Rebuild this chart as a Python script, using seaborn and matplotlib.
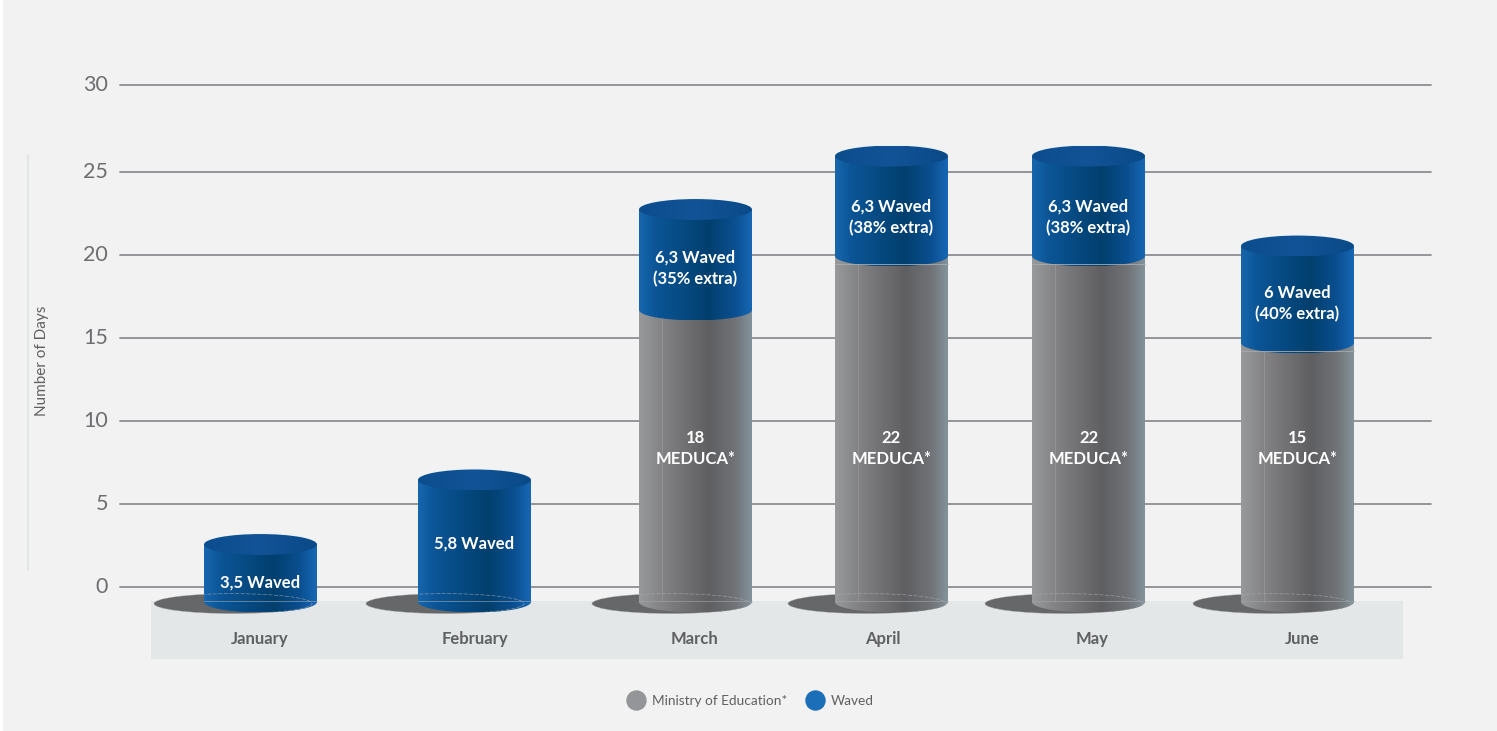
import numpy as np
import pandas as pd
import matplotlib
matplotlib.use('Agg')
import matplotlib.pyplot as plt
import seaborn as sns
from matplotlib.colors import LinearSegmentedColormap
from matplotlib.lines import Line2D
from matplotlib.patches import Ellipse, Polygon, Rectangle
from matplotlib.transforms import ScaledTranslation

# values: where each coloured section ends
months = ['January', 'February', 'March', 'April', 'May', 'June']
meduca_top = [None, None, 16.69, 19.94, 19.94, 14.7]
waved_top = [2.56, 6.45, 22.74, 25.96, 25.96, 20.54]
waved_labels = ['3,5 Waved', '5,8 Waved', '6,3 Waved\n(35% extra)', '6,3 Waved\n(38% extra)',
                '6,3 Waved\n(38% extra)', '6 Waved\n(40% extra)']
waved_label_y = [0.3, 2.59, 19.19, 22.26, 22.26, 17.08]
meduca_labels = [None, None, '18\nMEDUCA*', '22\nMEDUCA*', '22\nMEDUCA*', '15\nMEDUCA*']
y_labels = ['0', '5', '10', '15', '20', '25', '30']
# the top gridline sits a little higher than the even spacing in the original
y_ticks = [0, 5, 10, 15, 20, 25, 30.24]

# layout, the bars are not evenly spaced in the original
centers = [260.5, 474.5, 695.5, 891.5, 1088.5, 1297.5]
month_x = [260, 475, 695, 883, 1092, 1302]
shadow_x = [233, 445, 671, 867, 1064, 1272]
floor = -0.9
cap_h = 0.63
band_top = -0.84
y_min = -4.337

BG = '#f2f2f2'
TEXT = '#5f6062'
blue_cmap = LinearSegmentedColormap.from_list('b', [(0, '#1766ad'), (.15, '#0b5596'), (.62, '#013f6d'),
                                                    (.85, '#0a4f90'), (1, '#1767b4')])
gray_cmap = LinearSegmentedColormap.from_list('g', [(0, '#98999b'), (.2, '#838385'), (.62, '#5f5f62'),
                                                    (.85, '#707276'), (1, '#83929a')])
cap_cmap = LinearSegmentedColormap.from_list('c', [(0, '#0c4d8e'), (.5, '#125397'), (1, '#0a4a88')])

sns.set_theme(style='white')
plt.rcParams['font.family'] = ['Lato', 'Roboto', 'DejaVu Sans']

fig = plt.figure(figsize=(14.97, 7.31), dpi=100, facecolor=BG)
ax = fig.add_axes([120 / 1497, 1 - 659 / 731, (1431 - 120) / 1497, (659 - 85) / 731])
ax.set_facecolor('none')

df = pd.DataFrame({'x': centers, 'month': months, 'meduca': meduca_top, 'waved': waved_top})
w = 113 / 196


def bars(sub, col):
    n = len(ax.patches)
    sns.barplot(x=sub['x'].values, y=sub[col].values - floor, bottom=floor, native_scale=True,
                width=w, color='#888888', ax=ax, errorbar=None)
    new = list(ax.patches[n:])
    for p in new:
        p.set_visible(False)
    return new


def arc(x0, x1, y, half, n=60):
    t = np.linspace(0, np.pi, n)
    xs = (x0 + x1) / 2 + (x1 - x0) / 2 * np.cos(t)
    ys = y - half * np.sin(t)
    return np.column_stack([xs, ys])


def gradient(x0, x1, y0, y1, cmap, clip, z):
    grad = np.linspace(0, 1, 200).reshape(1, -1)
    im = ax.imshow(grad, cmap=cmap, extent=[x0, x1, y0, y1], aspect='auto', zorder=z, origin='lower')
    clip.set_transform(ax.transData)
    im.set_clip_path(clip)


def edges(p):
    return p.get_x(), p.get_x() + p.get_width(), p.get_y(), p.get_y() + p.get_height()


gray_df = df[df['meduca'].notna()]
gray_bars = bars(gray_df, 'meduca')
blue_bars = bars(df, 'waved')

ax.set_xlim(120, 1431)
ax.set_ylim(y_min, y_ticks[-1])

# grey band under the bars and the shadows
ax.add_patch(Rectangle((151, y_min), 1252, band_top - y_min, fc='#e4e7e8', ec='none', zorder=1))
for sx in shadow_x:
    ax.add_patch(Ellipse((sx, -1.0), 158, 1.2, fc='#666768', ec='none', zorder=2))

for p in gray_bars:
    x0, x1, y0, y1 = edges(p)
    pts = np.vstack([[[x0, y1], [x1, y1]], arc(x0, x1, y0, cap_h)])
    gradient(x0, x1, y0 - cap_h, y1, gray_cmap, Polygon(pts, closed=True), 3)
    lx = x0 + (x1 - x0) * .2
    ax.plot([lx, lx], [y0, y1], color='#a9a9ab', lw=.5, alpha=.6, zorder=3.1)

for i, p in enumerate(blue_bars):
    x0, x1, y0, y1 = edges(p)
    base = y0 if meduca_top[i] is None else meduca_top[i]
    pts = np.vstack([[[x0, y1], [x1, y1]], arc(x0, x1, base, cap_h)])
    gradient(x0, x1, base - cap_h, y1, blue_cmap, Polygon(pts, closed=True), 4)
    # light rim behind the cap, then the cap itself
    ax.add_patch(Ellipse(((x0 + x1) / 2, y1 + .05), x1 - x0, 2 * cap_h, fc='#e8f3f8', ec='none', zorder=4.1))
    gradient(x0, x1, y1 - cap_h, y1 + cap_h, cap_cmap,
             Ellipse(((x0 + x1) / 2, y1), x1 - x0, 2 * cap_h), 4.2)

# thin light lines where the artwork's layers meet
for c, sx in zip(centers, shadow_x):
    ax.add_patch(Ellipse((sx, -1.0), 158, 1.2, fc='none', ec='#a8aeb4', lw=.5, alpha=.7,
                         ls=(0, (6, 2)), zorder=4.3))
    ax.plot([c - 56.5, c + 56.5], [band_top, band_top], color='#9fa6ac', lw=.6, alpha=.7, zorder=4.3)
for c, t in zip(centers, meduca_top):
    if t is not None and t != meduca_top[2]:
        ax.plot([c - 56.5, c + 56.5], [t - cap_h * .75] * 2, color='#a9acb0', lw=.6, zorder=4.3)

for c, s, y in zip(centers, waved_labels, waved_label_y):
    ax.text(c, y, s, color='white', fontsize=12, fontweight='bold', ha='center', va='center',
            linespacing=1.38, zorder=6)
for c, s in zip(centers, meduca_labels):
    if s is not None:
        ax.text(c, 8.34, s, color='white', fontsize=12, fontweight='bold', ha='center',
                va='center', linespacing=1.38, zorder=6)

ax.set_yticks(y_ticks)
ax.set_yticklabels(y_labels)
ax.set_xticks(month_x)
ax.set_xticklabels(months, fontsize=12, fontweight='bold', color=TEXT)
ax.tick_params(axis='x', length=0, pad=-20.5)
ax.tick_params(axis='y', length=0, pad=8.5, labelsize=15.5, labelcolor='#6d6e71')
ax.yaxis.grid(True, color='#8f8d92', lw=1.3)
ax.set_axisbelow('line')
ax.set_xlabel('')
for s in ax.spines.values():
    s.set_visible(False)
for t in ax.get_ygridlines():
    t.set_clip_on(False)
# numbers sit slightly above their lines
for lbl in ax.get_yticklabels():
    lbl.set_transform(lbl.get_transform() + ScaledTranslation(0, 2 / 100, fig.dpi_scale_trans))

fig.text(42 / 1497, 1 - 361 / 731, 'Number of Days', rotation=90, fontsize=11, color=TEXT,
         ha='center', va='center')
fig.add_artist(Line2D([28 / 1497] * 2, [1 - 155 / 731, 1 - 570 / 731], color='#e3e7e7', lw=1.6))
# white sliver along the left edge of the scan
fig.add_artist(Rectangle((0, 0), 3 / 1497, 1, fc='white', ec='none', transform=fig.transFigure))

handles = [Line2D([], [], ls='', marker='o', ms=13.7, color='#939598', label='Ministry of Education*'),
           Line2D([], [], ls='', marker='o', ms=13.7, color='#1b6fb9', label='Waved')]
fig.legend(handles=handles, ncol=2, frameon=False, loc='center', bbox_to_anchor=(748 / 1497, 1 - 701 / 731),
           fontsize=9.8, labelcolor=TEXT, handletextpad=.2, columnspacing=1.0)

fig.savefig('out.png', dpi=100, facecolor=BG)
